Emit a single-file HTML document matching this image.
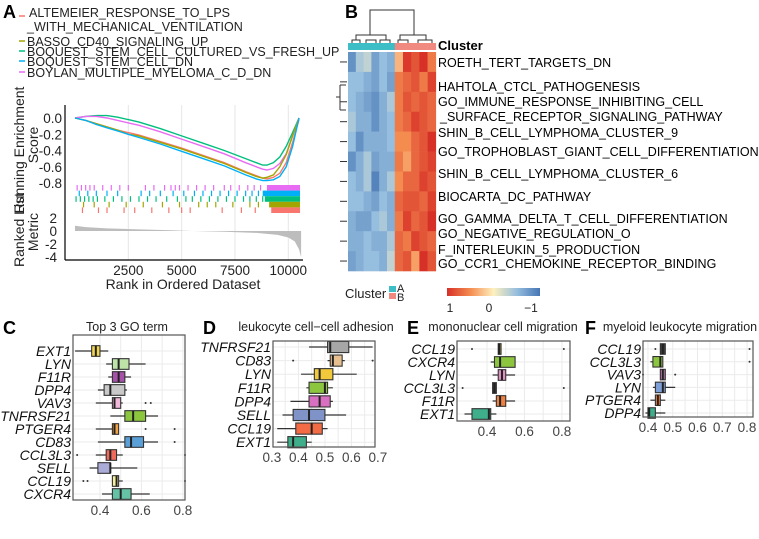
<!DOCTYPE html>
<html><head><meta charset="utf-8"><style>
body{margin:0;background:#fff;}
svg{display:block;font-family:"Liberation Sans",sans-serif;}
</style></head><body>
<svg id="fig" width="759" height="539" viewBox="0 0 759 539"></svg>
<script>
// ---------- Panel A data ----------
const esRanks=[0,500,1000,1500,2000,2500,3000,4000,5000,6000,7000,8000,8500,8800,9000,9300,9600,9900,10200,10500];
const esRed=[0,-0.03,-0.07,-0.11,-0.15,-0.18,-0.21,-0.29,-0.37,-0.46,-0.55,-0.66,-0.71,-0.74,-0.75,-0.73,-0.68,-0.55,-0.3,-0.02];
const esOlive=[0,-0.03,-0.07,-0.11,-0.15,-0.2,-0.22,-0.3,-0.38,-0.47,-0.56,-0.67,-0.72,-0.74,-0.73,-0.7,-0.6,-0.45,-0.22,0];
const esGreen=[0,0.02,0.03,0.03,0.01,-0.02,-0.05,-0.13,-0.22,-0.31,-0.4,-0.5,-0.55,-0.58,-0.58,-0.55,-0.48,-0.35,-0.18,0];
const esBlue=[0,-0.03,-0.08,-0.12,-0.16,-0.2,-0.24,-0.32,-0.41,-0.5,-0.59,-0.7,-0.75,-0.77,-0.77,-0.76,-0.72,-0.6,-0.35,0];
const esPurple=[0,0.02,0.02,0,-0.03,-0.06,-0.09,-0.17,-0.26,-0.35,-0.44,-0.55,-0.6,-0.63,-0.64,-0.62,-0.56,-0.44,-0.22,0];
const rugPurple=[100,300,500,700,900,1300,1700,2100,2500,3300,3700,4200,4500,4700,4900,5300,5700,6100,6500,7000,7300,7700,8100,8400,8700];
const rugBlue=[200,600,1000,1500,2000,3100,3500,4000,4600,5100,5600,6000,6400,6800,7200,7600,8000,8300,8600,8900];
const rugGreen=[50,250,450,650,850,1050,1400,1800,2200,2600,3000,3400,3800,4300,4800,5200,5500,5900,6300,6700,7100,7500,7900,8200,8500,8800];
const rugOlive=[400,900,1600,2400,3200,4100,4900,5800,6200,6600,7400,8200,8600];
const rugRed=[350,1100,1500,2300,2800,3600,4400,5000,5400,6900,7800,8450];
const rugDenseStart=[9000,8800,8900,9100,9200];
const metricRanks=[0,500,1500,3000,4500,5500,7000,8500,9500,10000,10300,10500,10600];
const metricVals=[0.8,0.6,0.4,0.25,0.1,0,-0.1,-0.3,-0.6,-1.0,-1.6,-2.8,-4.0];
const rankTicks=[2500,5000,7500,10000];
const esTicks=[0,-0.2,-0.4,-0.6,-0.8];
const metricTicks=[2,0,-2,-4];
// ---------- Panel B data ----------
const heatRows=11;
const heatVals=[
[-0.8,-0.4,-0.3,-0.7,-0.5,-0.6, 0.3,0.95,0.8,1.0,0.6],
[-0.5,-0.5,-0.6,-0.7,-0.5,-0.7, 0.6,0.7,0.8,0.6,0.9],
[-0.5,-0.6,-0.7,-0.8,-0.6,-0.4, 0.6,0.8,0.7,0.8,0.7],
[-0.4,-0.6,-0.6,-0.8,-0.6,-0.5, 0.6,0.7,0.9,0.8,0.7],
[-0.5,-0.8,-0.6,-0.6,-0.6,-0.5, 0.5,0.5,0.7,0.8,1.0],
[-0.8,-0.6,-0.4,-0.7,-0.6,-0.6, 0.6,0.4,0.7,0.8,0.9],
[-0.5,-0.6,-0.4,-0.9,-0.6,-0.4, 0.5,0.7,0.7,0.9,0.8],
[-0.5,-0.5,-0.6,-0.7,-0.5,-0.6, 0.7,0.8,0.8,0.7,0.9],
[-0.6,-0.7,-0.7,-0.5,-0.4,-0.6, 0.6,0.9,0.7,0.8,1.0],
[-0.6,-0.6,-0.5,-0.6,-0.6,-0.4, 0.7,0.6,0.9,0.8,0.7],
[-0.7,-0.6,-0.5,-0.5,-0.6,-0.3, 0.7,0.8,0.4,1.0,0.8]];
const heatClusters=["A","A","A","A","A","A","B","B","B","B","B"];
const heatLabels=["ROETH_TERT_TARGETS_DN","HAHTOLA_CTCL_PATHOGENESIS","GO_IMMUNE_RESPONSE_INHIBITING_CELL","_SURFACE_RECEPTOR_SIGNALING_PATHWAY","SHIN_B_CELL_LYMPHOMA_CLUSTER_9","GO_TROPHOBLAST_GIANT_CELL_DIFFERENTIATION","SHIN_B_CELL_LYMPHOMA_CLUSTER_6","BIOCARTA_DC_PATHWAY","GO_GAMMA_DELTA_T_CELL_DIFFERENTIATION","GO_NEGATIVE_REGULATION_O","F_INTERLEUKIN_5_PRODUCTION","GO_CCR1_CHEMOKINE_RECEPTOR_BINDING"];
// ---------- Box plot data: [min,q1,med,q3,max] ----------
const cGenes=["EXT1","LYN","F11R","DPP4","VAV3","TNFRSF21","PTGER4","CD83","CCL3L3","SELL","CCL19","CXCR4"];
const cStats=[[0.28,0.36,0.38,0.40,0.44],[0.43,0.46,0.49,0.54,0.62],[0.44,0.46,0.49,0.52,0.55],[0.39,0.42,0.45,0.52,0.53],[0.38,0.46,0.47,0.50,0.51],[0.45,0.52,0.56,0.62,0.68],[0.38,0.46,0.47,0.49,0.49],[0.39,0.52,0.55,0.61,0.68],[0.38,0.43,0.45,0.48,0.51],[0.35,0.39,0.45,0.45,0.58],[0.46,0.46,0.48,0.49,0.51],[0.41,0.46,0.50,0.55,0.64]];
const cOut=[[],[],[],[],[0.62,0.645],[],[0.62,0.76],[0.76],[0.29,0.81],[],[0.32,0.34,0.81],[]];
const dGenes=["TNFRSF21","CD83","LYN","F11R","DPP4","SELL","CCL19","EXT1"];
const dStats=[[0.44,0.51,0.52,0.59,0.68],[0.51,0.52,0.53,0.565,0.575],[0.41,0.46,0.48,0.53,0.62],[0.43,0.44,0.50,0.51,0.53],[0.37,0.44,0.48,0.52,0.53],[0.34,0.38,0.44,0.50,0.58],[0.32,0.39,0.45,0.49,0.51],[0.32,0.36,0.38,0.43,0.45]];
const dOut=[[],[0.38,0.68],[],[],[],[],[],[]];
const eGenes=["CCL19","CXCR4","LYN","CCL3L3","F11R","EXT1"];
const eStats=[[0.46,0.46,0.465,0.475,0.475],[0.42,0.44,0.47,0.55,0.55],[0.43,0.46,0.48,0.50,0.55],[0.43,0.43,0.44,0.45,0.45],[0.43,0.45,0.47,0.50,0.55],[0.28,0.32,0.41,0.42,0.45]];
const eOut=[[0.32,0.81],[],[],[0.27,0.81],[],[]];
const fGenes=["CCL19","CCL3L3","VAV3","LYN","PTGER4","DPP4"];
const fStats=[[0.45,0.45,0.46,0.47,0.47],[0.41,0.42,0.45,0.46,0.46],[0.45,0.45,0.46,0.47,0.47],[0.42,0.43,0.46,0.47,0.51],[0.41,0.43,0.44,0.45,0.47],[0.39,0.40,0.405,0.43,0.47]];
const fOut=[[0.43,0.81],[0.81],[0.38,0.51],[],[],[]];
const cTicks=[0.4,0.6,0.8], dTicks=[0.3,0.4,0.5,0.6,0.7], eTicks=[0.4,0.6,0.8], fTicks=[0.4,0.5,0.6,0.7,0.8];

const NS="http://www.w3.org/2000/svg";
const svg=document.getElementById('fig');
function mk(tag,attrs,parent,text){const e=document.createElementNS(NS,tag);for(const k in attrs)e.setAttribute(k,attrs[k]);if(text!==undefined)e.textContent=text;(parent||svg).appendChild(e);return e;}
function grp(name){const g=mk('g',{});return g;}
function txt(g,x,y,s,opt){const t=mk('text',Object.assign({x:x,y:y,'font-size':13,fill:'#222'},opt||{}),g,s);return t;}

// ================= Panel A =================
(function(){
 const g=grp('panel-a');
 txt(g,3,18,'A',{'font-size':18,'font-weight':'bold',fill:'#000'});
 const cols=['#F8766D','#A3A500','#00BF7D','#00B0F6','#E76BF3'];
 const leg=[['ALTEMEIER_RESPONSE_TO_LPS',13,0],['_WITH_MECHANICAL_VENTILATION',27,-1],['BASSO_CD40_SIGNALING_UP',42,1],['BOQUEST_STEM_CELL_CULTURED_VS_FRESH_UP',52,2],['BOQUEST_STEM_CELL_DN',62,3],['BOYLAN_MULTIPLE_MYELOMA_C_D_DN',73,4]];
 const lg=grp('legend-a');g.appendChild(lg);
 leg.forEach(l=>{ if(l[2]>=0){const ln=mk('line',{x1:19,x2:25,y1:l[1]+(l[2]==0?3:-1),y2:l[1]+(l[2]==0?3:-1),stroke:cols[l[2]],'stroke-width':1.5},lg);}
   txt(lg,l[2]==0?29:27,l[1]+4,l[0],{'font-size':12.5});});
 const X=r=>75+r*0.02133;
 const Y=v=>118-v*81.25;
 const M=v=>231-v*6.5;
 rankTicks.forEach(t=>{const l=mk('line',{x1:X(t),x2:X(t),y1:105,y2:260,stroke:'#e6e6e6','stroke-width':1},g);});
 const series=[esRed,esOlive,esGreen,esBlue,esPurple];
 [2,4,0,1,3].forEach(i=>{const d=esRanks.map((r,k)=>(k?'L':'M')+X(r).toFixed(1)+' '+Y(series[i][k]).toFixed(1)).join(' ');
   const p=mk('path',{d:d,fill:'none',stroke:cols[i],'stroke-width':1.4},g);});
 const rugs=[[rugPurple,cols[4]],[rugBlue,cols[3]],[rugGreen,cols[2]],[rugOlive,cols[1]],[rugRed,cols[0]]];
 rugs.forEach((rr,i)=>{const y0=185+i*5.6;
   rr[0].forEach(r=>{const l=mk('line',{x1:X(r),x2:X(r),y1:y0,y2:y0+5.6,stroke:rr[1],'stroke-width':1.2},g);});
   const b=mk('rect',{x:X(rugDenseStart[i]),y:y0,width:X(10550)-X(rugDenseStart[i]),height:5.6,fill:rr[1]},g);});
 let d='M'+X(0)+' '+M(0);metricRanks.forEach(function(r,k){d+=' L'+X(r).toFixed(1)+' '+M(metricVals[k]).toFixed(1);});d+=' L'+X(10600)+' '+M(0)+'Z';
 const a=mk('path',{d:d,fill:'#bdbdbd',stroke:'none'},g);
 mk('line',{x1:65,x2:65,y1:105,y2:260,stroke:'#000','stroke-width':1.2},g);
 mk('line',{x1:65,x2:303,y1:260,y2:260,stroke:'#000','stroke-width':1.2},g);
 esTicks.forEach(t=>txt(g,62,Y(t)+5,t.toFixed(1),{'text-anchor':'end','font-size':13.5}));
 metricTicks.forEach(t=>txt(g,57,M(t)+5,String(t),{'text-anchor':'end','font-size':13.5}));
 rankTicks.forEach(t=>txt(g,X(t),275,String(t),{'text-anchor':'middle','font-size':13.5}));
 txt(g,183,289,'Rank in Ordered Dataset',{'text-anchor':'middle','font-size':14});
 txt(g,0,0,'Running Enrichment',{'font-size':14,'text-anchor':'middle',transform:'translate(24,150) rotate(-90)'});
 txt(g,0,0,'Score',{'font-size':14,'text-anchor':'middle',transform:'translate(38,145) rotate(-90)'});
 txt(g,0,0,'Ranked List',{'font-size':14,'text-anchor':'middle',transform:'translate(24,230) rotate(-90)'});
 txt(g,0,0,'Metric',{'font-size':14,'text-anchor':'middle',transform:'translate(38,232) rotate(-90)'});
})();

// ================= Panel B =================
(function(){
 const g=grp('panel-b');
 txt(g,345,18,'B',{'font-size':18,'font-weight':'bold',fill:'#000'});
 const x0=348,top=52,h=219,rh=h/heatRows;
 const colX=[];let cx=x0;heatClusters.forEach(c=>{const w=c=='A'?7.8:8.2;colX.push([cx,w]);cx+=w;});
 const stops=[[1,[215,48,39]],[0.5,[244,140,80]],[0,[254,240,190]],[-0.5,[150,190,222]],[-1,[69,117,180]]];
 function col(v){for(let i=0;i<stops.length-1;i++){const a=stops[i],b=stops[i+1];if(v<=a[0]&&v>=b[0]){const t=(a[0]-v)/(a[0]-b[0]);const c=a[1].map((q,k)=>Math.round(q+(b[1][k]-q)*t));return 'rgb('+c.join(',')+')';}}return v>1?'rgb(215,48,39)':'rgb(69,117,180)';}
 heatVals.forEach((row,ri)=>row.forEach((v,ci)=>{const r=mk('rect',{x:colX[ci][0],y:top+ri*rh,width:colX[ci][1]+0.3,height:rh+0.3,fill:col(v)},g);}));
 heatClusters.forEach((c,ci)=>{const r=mk('rect',{x:colX[ci][0],y:43,width:colX[ci][1]+0.3,height:7,fill:c=='A'?'#3DBDC6':'#F08A80'},g);});
 const dg=grp('dendrogram');g.appendChild(dg);
 const dp='M370 35 V10 H414 V35 M356 40 V35 H386 V40 M352 43 V40 H360 V43 M366 43 V40 H376 V43 M380 43 V40 H390 V43 M400 40 V35 H426 V40 M398 43 V40 H408 V43 M418 43 V40 H432 V43 M340 85 H346 M340 110 H346 M340 85 V110 M340 97 H336 ';
 mk('path',{d:dp,fill:'none',stroke:'#333','stroke-width':1},dg);
 for(let i=0;i<heatRows;i++){mk('line',{x1:340,x2:347,y1:top+(i+0.5)*rh,y2:top+(i+0.5)*rh,stroke:'#333','stroke-width':1},dg);}
 txt(g,438,50,'Cluster',{'font-size':13,'font-weight':'bold',fill:'#000'});
 const ly=[62,86,101,116,132,151,173,196,218,233,249,263];
 heatLabels.forEach((s,i)=>txt(g,i==3?440:438,ly[i]+5,s,{'font-size':12.5,fill:'#000'}));
 txt(g,345,298,'Cluster',{'font-size':13});
 mk('rect',{x:389,y:286,width:7,height:6,fill:'#3DBDC6'},g);
 mk('rect',{x:389,y:293,width:7,height:6,fill:'#F08A80'},g);
 txt(g,397,292,'A',{'font-size':11});txt(g,397,301,'B',{'font-size':11});
 const gr=mk('linearGradient',{id:'cb',x1:0,x2:1,y1:0,y2:0},g);
 [[0,'rgb(215,48,39)'],[0.25,'rgb(244,140,80)'],[0.5,'rgb(254,240,190)'],[0.75,'rgb(150,190,222)'],[1,'rgb(69,117,180)']].forEach(s=>mk('stop',{offset:s[0],'stop-color':s[1]},gr));
 const cb=mk('rect',{x:447,y:288,width:93,height:8,fill:'url(#cb)'},g);
 txt(g,450,312,'1',{'text-anchor':'middle','font-size':12});txt(g,489,312,'0',{'text-anchor':'middle','font-size':12});txt(g,531,312,'−1',{'text-anchor':'middle','font-size':12});
})();

// ================= Box plots =================
function boxPanel(name,letter,lx,title,tx,box,vmin,vmax,ticks,genes,stats,outs,colors,y0,step,tickMinor){
 const g=grp(name);
 txt(g,lx,334,letter,{'font-size':18,'font-weight':'bold',fill:'#000'});
 txt(g,tx,331,title,{'text-anchor':'middle','font-size':12.5});
 const X=v=>box[0]+(v-vmin)/(vmax-vmin)*(box[2]-box[0]);
 const minor=[];for(let k=0;k<ticks.length;k++){minor.push(ticks[k]);if(tickMinor)minor.push(ticks[k]+tickMinor);}
 minor.forEach(t=>{const x=X(t);if(x>box[0]&&x<box[2]){const l=mk('line',{x1:x,x2:x,y1:box[1],y2:box[3],stroke:'#ebebeb','stroke-width':1},g);}});
 genes.forEach((gn,i)=>{const y=y0+i*step;mk('line',{x1:box[0],x2:box[2],y1:y,y2:y,stroke:'#ebebeb','stroke-width':1},g);});
 genes.forEach((gn,i)=>{const y=y0+i*step,s=stats[i],bh=step*0.82;
   const bg=grp('box-'+gn.toLowerCase());g.appendChild(bg);
   mk('line',{x1:X(s[0]),x2:X(s[4]),y1:y,y2:y,stroke:'#333','stroke-width':1.2},bg);
   mk('rect',{x:X(s[1]),y:y-bh/2,width:Math.max(2,X(s[3])-X(s[1])),height:bh,fill:colors[i],stroke:'#333','stroke-width':1.1},bg);
   mk('line',{x1:X(s[2]),x2:X(s[2]),y1:y-bh/2,y2:y+bh/2,stroke:'#222','stroke-width':2},bg);
   outs[i].forEach(o=>mk('circle',{cx:X(o),cy:y,r:1,fill:'#333'},bg));
   txt(g,box[0]-2,y+5,gn,{'text-anchor':'end','font-size':14,'font-style':'italic',fill:'#111'});});
 const fr=mk('rect',{x:box[0],y:box[1],width:box[2]-box[0],height:box[3]-box[1],fill:'none',stroke:'#555','stroke-width':1.2},g);
 ticks.forEach(t=>txt(g,X(t),box[3]+15,t.toFixed(1),{'text-anchor':'middle','font-size':13.5,fill:'#444'}));
}
boxPanel('panel-c','C',3,'Top 3 GO term',127,[73,335,185,500],0.27,0.81,cTicks,cGenes,cStats,cOut,
 ['#F2D64E','#BDE3A8','#A652A8','#C9C9C9','#F2BADA','#8CC63E','#F5A442','#5AA0D8','#EF6A5A','#ABABD8','#F5F0A0','#66C2A5'],351,13,0.1);
boxPanel('panel-d','D',203,'leukocyte cell−cell adhesion',316,[273,341,375,447],0.304,0.689,dTicks,dGenes,dStats,dOut,
 ['#A6A6A6','#E8C090','#F2C93A','#8CC63E','#D86FC0','#8093C8','#F26B45','#3FAE8A'],347,13.6,0.05);
boxPanel('panel-e','E',407,'mononuclear cell migration',503,[457,341,570,421],0.24,0.843,eTicks,eGenes,eStats,eOut,
 ['#C8B040','#8CC63E','#E090C0','#404040','#F08040','#3FAE8A'],349,13,0.1);
boxPanel('panel-f','F',585,'myeloid leukocyte migration',680,[643,341,753,417],0.38,0.824,fTicks,fGenes,fStats,fOut,
 ['#404040','#8CC63E','#C070B0','#7F9FD8','#F08040','#3FAE8A'],349,12.8,0.05);
</script>
</body></html>
